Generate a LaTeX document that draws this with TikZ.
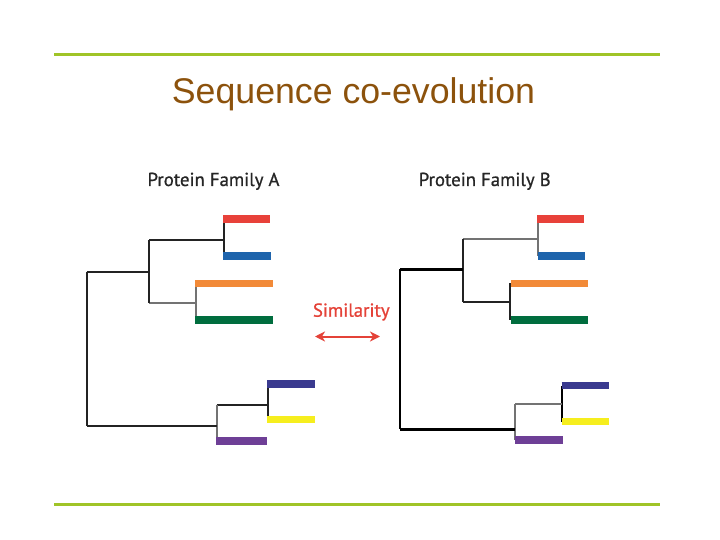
\documentclass[tikz,border=0pt]{standalone}
\usepackage{fontspec}
\setmainfont{Liberation Sans}
\newfontfamily\labfont[FakeBold=0.8]{PT Sans}
\usetikzlibrary{arrows.meta}
\definecolor{rulegreen}{RGB}{160,196,40}
\definecolor{titlebrown}{RGB}{140,82,12}
\definecolor{labgray}{RGB}{38,38,38}
\definecolor{simred}{RGB}{228,66,56}
\definecolor{cred}{RGB}{232,65,58}
\definecolor{cblue}{RGB}{30,100,172}
\definecolor{corange}{RGB}{242,138,56}
\definecolor{cgreen}{RGB}{0,109,62}
\definecolor{cnavy}{RGB}{58,58,143}
\definecolor{cyellow}{RGB}{246,238,30}
\definecolor{cpurple}{RGB}{110,63,150}
\definecolor{dk}{RGB}{35,35,35}
\definecolor{lt}{RGB}{115,115,115}
\begin{document}
\begin{tikzpicture}[x=1pt,y=-1pt,
  rulebar/.style={draw=rulegreen,line width=3pt},
  leafbar/.style={line width=7.5pt},
  br/.style={draw=dk,line width=1.8pt},
  brl/.style={draw=lt,line width=1.7pt},
  brk/.style={draw=black,line width=2.4pt},
  famlabel/.style={font=\labfont\fontsize{18.8}{22}\selectfont,text=labgray,anchor=base,inner sep=0pt}]
\useasboundingbox (0,0) rectangle (720,540);
% rules
\coordinate (tl) at (54,54.3); \coordinate (tr) at (660,54.3);
\coordinate (bl) at (54,504.3); \coordinate (brr) at (660,504.3);
\draw[rulebar] (tl) -- (tr);
\draw[rulebar] (bl) -- (brr);
% title
\node[anchor=base,inner sep=0pt,text=titlebrown,font=\fontsize{35.7}{40}\selectfont] (title) at (353.5,104) {Sequence co-evolution};
% labels
\node[famlabel] (labA) at (213.5,186) {Protein Family A};
\node[famlabel] (labB) at (484.7,186) {Protein Family B};
\node[famlabel,text=simred] (sim) at (351.3,316.7) {Similarity};
\coordinate (arL) at (315,336.5); \coordinate (arR) at (380,336.5);
\draw[simred,line width=2pt,{Stealth[length=10pt,width=10pt,inset=3pt]}-{Stealth[length=10pt,width=10pt,inset=3pt]}] (arL) -- (arR);

% ---------- Tree A ----------
\coordinate (aRedL) at (223,219); \coordinate (aRedR) at (270,219);
\coordinate (aBluL) at (223,256); \coordinate (aBluR) at (271,256);
\coordinate (aOraL) at (195,283.3); \coordinate (aOraR) at (273,283.3);
\coordinate (aGreL) at (195,320); \coordinate (aGreR) at (273,320);
\coordinate (aNavL) at (267,384); \coordinate (aNavR) at (314.5,384);
\coordinate (aYelL) at (267,419.3); \coordinate (aYelR) at (314.5,419.3);
\coordinate (aPurL) at (216,441); \coordinate (aPurR) at (267,441);
\coordinate (a1t) at (224.3,219); \coordinate (a1b) at (224.3,256); \coordinate (a1) at (224.3,240);
\coordinate (a2t) at (196.3,283.3); \coordinate (a2b) at (196.3,320); \coordinate (a2) at (196.3,302.7);
\coordinate (a3t) at (149.3,240); \coordinate (a3b) at (149.3,302.7); \coordinate (a3) at (149.3,271.7);
\coordinate (a4t) at (267.7,384); \coordinate (a4b) at (267.7,419.3); \coordinate (a4) at (267.7,405);
\coordinate (a5t) at (216.7,405); \coordinate (a5b) at (216.7,441); \coordinate (a5) at (216.7,425.7);
\coordinate (a6t) at (86.7,271.7); \coordinate (a6b) at (86.7,425.7);
\draw[br] (a1t) -- (a1b);
\draw[brl] (a2t) -- (a2b);
\draw[br] (a3t) -- (a1);
\draw[brl] (a3b) -- (a2);
\draw[br] (a3t) -- (a3b);
\draw[br] (a4t) -- (a4b);
\draw[br] (a5t) -- (a4);
\draw[brl] (a5t) -- (a5b);
\draw[br] (a6t) -- (a3);
\draw[br] (a6b) -- (a5);
\draw[br] (a6t) -- (a6b);
\draw[leafbar,cred] (aRedL) -- (aRedR);
\draw[leafbar,cblue] (aBluL) -- (aBluR);
\draw[leafbar,corange] (aOraL) -- (aOraR);
\draw[leafbar,cgreen] (aGreL) -- (aGreR);
\draw[leafbar,cnavy] (aNavL) -- (aNavR);
\draw[leafbar,cyellow] (aYelL) -- (aYelR);
\draw[leafbar,cpurple] (aPurL) -- (aPurR);

% ---------- Tree B ----------
\coordinate (bRedL) at (537,219); \coordinate (bRedR) at (584,219);
\coordinate (bBluL) at (537.5,256); \coordinate (bBluR) at (585,256);
\coordinate (bOraL) at (510.5,283.3); \coordinate (bOraR) at (588,283.3);
\coordinate (bGreL) at (511,320); \coordinate (bGreR) at (588,320);
\coordinate (bNavL) at (561.5,385.7); \coordinate (bNavR) at (608.7,385.7);
\coordinate (bYelL) at (561.5,421.7); \coordinate (bYelR) at (608.7,421.7);
\coordinate (bPurL) at (514.5,440); \coordinate (bPurR) at (562.7,440);
\coordinate (b1t) at (537.7,219); \coordinate (b1b) at (537.7,256); \coordinate (b1) at (537.7,239);
\coordinate (b2t) at (510.3,283.3); \coordinate (b2b) at (510.3,320); \coordinate (b2) at (510.3,301.7);
\coordinate (b3t) at (462.7,239); \coordinate (b3b) at (462.7,301.7); \coordinate (b3) at (462.7,269.3);
\coordinate (b4t) at (562,385.7); \coordinate (b4b) at (562,421.7); \coordinate (b4) at (562,403.7);
\coordinate (b5t) at (515,403.7); \coordinate (b5b) at (515,440); \coordinate (b5) at (515,429.3);
\coordinate (b6t) at (400,269.3); \coordinate (b6b) at (400,429.3);
\draw[brl] (b1t) -- (b1b);
\draw[br] (b2t) -- (b2b);
\draw[brl] (b3t) -- (b1);
\draw[br] (b3b) -- (b2);
\draw[br] (b3t) -- (b3b);
\draw[brk] (b4t) -- (b4b);
\draw[brl] (b5t) -- (b4);
\draw[brl] (b5t) -- (b5b);
\draw[brk] (b6t) -- (b3);
\draw[brk] (b6b) -- (b5);
\draw[brk] (b6t) -- (b6b);
\draw[leafbar,cred] (bRedL) -- (bRedR);
\draw[leafbar,cblue] (bBluL) -- (bBluR);
\draw[leafbar,corange] (bOraL) -- (bOraR);
\draw[leafbar,cgreen] (bGreL) -- (bGreR);
\draw[leafbar,cnavy] (bNavL) -- (bNavR);
\draw[leafbar,cyellow] (bYelL) -- (bYelR);
\draw[leafbar,cpurple] (bPurL) -- (bPurR);
\end{tikzpicture}
\end{document}
